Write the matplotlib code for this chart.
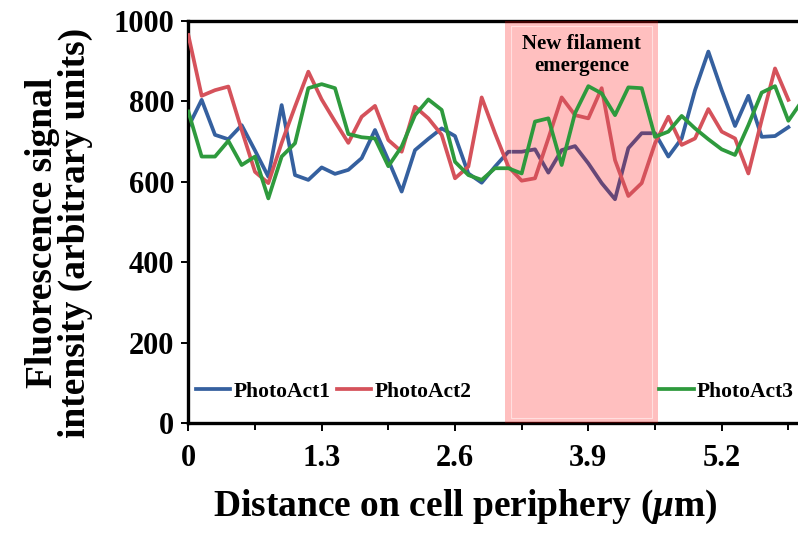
import matplotlib.pyplot as plt
from matplotlib.patches import Rectangle

plt.rcParams['font.family'] = ['Liberation Serif', 'DejaVu Serif']
plt.rcParams['font.weight'] = 'bold'
plt.rcParams['mathtext.fontset'] = 'custom'
plt.rcParams['mathtext.it'] = 'Liberation Serif:italic:bold'
plt.rcParams['mathtext.rm'] = 'Liberation Serif:bold'

step = 0.13
photo1 = [737, 804, 717, 706, 741, 678, 613, 791, 617, 605, 636, 620, 630, 659, 729, 654,
          576, 679, 707, 733, 714, 621, 598, 638, 675, 675, 681, 623, 679, 689, 646, 597,
          557, 684, 721, 721, 663, 708, 828, 924, 828, 739, 814, 712, 714, 736]
photo2 = [965, 814, 828, 837, 729, 625, 597, 697, 787, 874, 805, 750, 697, 762, 789, 704,
          675, 787, 758, 717, 609, 638, 810, 721, 638, 603, 609, 708, 810, 766, 758, 833,
          654, 565, 597, 696, 762, 692, 708, 781, 725, 708, 621, 754, 882, 804]
photo3 = [775, 663, 663, 702, 642, 663, 559, 663, 696, 833, 843, 833, 719, 711, 708, 639,
          688, 766, 805, 779, 650, 617, 605, 634, 634, 621, 750, 758, 642, 771, 838, 820,
          766, 835, 833, 712, 725, 764, 733, 706, 681, 667, 741, 822, 838, 752, 800]
x1 = [i*step for i in range(len(photo1))]
x2 = [i*step for i in range(len(photo2))]
x3 = [i*step for i in range(len(photo3))]

shade_start = 3.09
shade_end = 4.58

fig = plt.figure(figsize=(7.98, 5.34), dpi=100)
ax = fig.add_axes([0.236, 0.2073, 0.7712, 0.7534])

l1, = ax.plot(x1, photo1, color='#35609f', lw=2.7, label='PhotoAct1', zorder=2)
ax.axvspan(shade_start, shade_end, color='#ff0000', alpha=0.25, lw=0, zorder=2.6)
ax.add_patch(Rectangle((shade_start+0.06, 12), shade_end-shade_start-0.12, 975,
                       fill=False, edgecolor='white', lw=0.8, alpha=0.5, zorder=2.7))
l2, = ax.plot(x2, photo2, color='#d5525b', lw=2.7, label='PhotoAct2', zorder=3)
l3, = ax.plot(x3, photo3, color='#2e9a3d', lw=2.7, label='PhotoAct3', zorder=3)

ax.text((shade_start+shade_end)/2, 915, 'New filament\nemergence', ha='center', va='center',
        fontsize=15, fontweight='bold', linespacing=1.15, zorder=4)

ax.set_xlim(0, 6.0)
ax.set_ylim(0, 1000)
ax.set_xticks([0, 1.3, 2.6, 3.9, 5.2])
ax.set_xticklabels(['0', '1.3', '2.6', '3.9', '5.2'])
ax.set_xticks([0.65, 1.95, 3.25, 4.55, 5.85], minor=True)
ax.set_yticks(range(0, 1001, 200))
ax.tick_params(axis='x', which='major', labelsize=22, length=6, width=1.4, pad=9, direction='out')
ax.tick_params(axis='x', which='minor', length=5, width=1.4, direction='out')
ax.tick_params(axis='y', labelsize=22, length=5, width=1.4, pad=5, direction='out')
for s in ['left', 'bottom', 'top']:
    ax.spines[s].set_linewidth(2.4)
ax.spines['right'].set_visible(False)

leg1 = ax.legend(handles=[l1, l2], loc='center left', bbox_to_anchor=(0.012, 0.078), ncol=2,
                 frameon=False, fontsize=15.5, handlelength=1.6, handletextpad=0.15,
                 columnspacing=0.3, borderpad=0, borderaxespad=0)
ax.add_artist(leg1)
ax.legend(handles=[l3], loc='center left', bbox_to_anchor=(0.765, 0.078), frameon=False,
          fontsize=15.5, handlelength=1.6, handletextpad=0.15, borderpad=0, borderaxespad=0)

fig.text(465/798, 0.05, r'Distance on cell periphery ($\mu$m)', ha='center', va='center',
         fontsize=27, fontweight='bold')
fig.text(0.074, 0.563, 'Fluorescence signal\nintensity (arbitrary units)', rotation=90,
         ha='center', va='center', fontsize=27, fontweight='bold', linespacing=0.9)

plt.savefig('out.png', dpi=100)
